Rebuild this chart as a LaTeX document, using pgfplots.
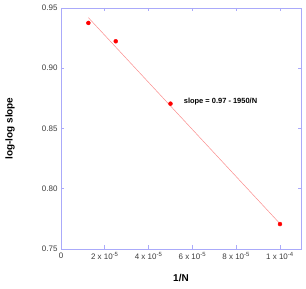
\documentclass[border=0pt]{standalone}
\usepackage{pgfplots}
\pgfplotsset{compat=1.18}
\usepackage{fontspec}
\setmainfont{Liberation Sans}
\usetikzlibrary{calc}
\definecolor{axcol}{RGB}{170,170,250}
\definecolor{tickcol}{RGB}{60,60,60}
\definecolor{fitcol}{RGB}{250,140,140}
\begin{document}
\begin{tikzpicture}
\begin{axis}[name=ax,
  scale only axis, width=240bp, height=241bp,
  xmin=0, xmax=1.096e-4, ymin=0.75, ymax=0.95,
  axis line style={axcol},
  every tick/.style={axcol, line width=0.6pt},
  major tick length=3.5bp,
  tick align=inside,
  xtick={0,2e-5,4e-5,6e-5,8e-5,1e-4},
  xticklabels={0,{2 x 10\textsuperscript{-5}},{4 x 10\textsuperscript{-5}},{6 x 10\textsuperscript{-5}},{8 x 10\textsuperscript{-5}},{1 x 10\textsuperscript{-4}}},
  ytick={0.75,0.80,0.85,0.90,0.95},
  yticklabels={0.75,0.80,0.85,0.90,0.95},
  scaled x ticks=false,
  tick label style={font=\fontsize{8}{9.5}\selectfont, text=tickcol},
  xlabel={\textbf{1/N}}, ylabel={\textbf{log-log slope}},
  label style={font=\fontsize{10}{12}\selectfont},
  xlabel style={at={(axis description cs:0.5,0)}, anchor=center, yshift=-29bp},
  ylabel style={at={(axis description cs:-0.2125,0.5)}, anchor=center},
  clip=false,
]
\addplot[fitcol, line width=0.5pt] coordinates {(1.25e-5,0.942) (1e-4,0.771)};
\addplot[only marks, mark=*, mark size=2pt, red, mark options={draw=red, fill=red}] coordinates {
(1.25e-5,0.9376) (2.5e-5,0.9224) (5e-5,0.8706) (1e-4,0.7707)};
\node[anchor=west, font=\fontsize{7.5}{9}\selectfont\bfseries] at (axis cs:5.45e-5,0.8725) {slope = 0.97 - 1950/N};
\end{axis}
\path ($(ax.south west)+(-61bp,-40bp)$) rectangle ($(ax.north east)+(5bp,8bp)$);
\end{tikzpicture}
\end{document}
